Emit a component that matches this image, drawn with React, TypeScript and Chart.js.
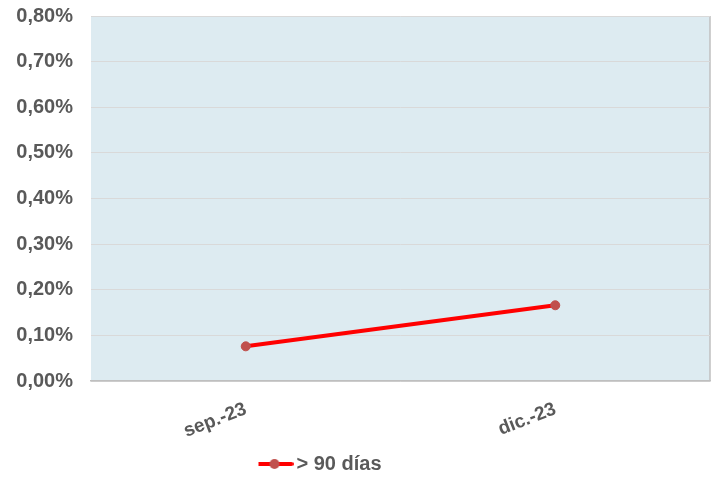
import React, { useEffect, useRef } from "react";
import { Chart, registerables } from "chart.js";

Chart.register(...registerables);

const categories = ["sep.-23", "dic.-23"];
const seriesName = "> 90 días";
const seriesValues = [0.076, 0.166];
const yMin = 0;
const yMax = 0.8;
const yStep = 0.1;

const FONT = "'Liberation Sans', Arial, sans-serif";
const TEXT = "#595959";

function makeLegendIcon(): HTMLCanvasElement {
  const c = document.createElement("canvas");
  c.width = 38;
  c.height = 12;
  const g = c.getContext("2d")!;
  g.strokeStyle = "#FF0000";
  g.lineWidth = 4;
  g.lineCap = "round";
  g.beginPath();
  g.moveTo(2, 6);
  g.lineTo(36, 6);
  g.stroke();
  g.fillStyle = "#C0504D";
  g.beginPath();
  g.arc(19, 6, 5, 0, Math.PI * 2);
  g.fill();
  return c;
}

const bgPlugin = {
  id: "plotBg",
  beforeDraw(chart: any) {
    const { ctx, chartArea } = chart;
    if (!chartArea) return;
    ctx.save();
    ctx.fillStyle = "#DDEBF1";
    ctx.fillRect(chartArea.left, chartArea.top, chartArea.right - chartArea.left, chartArea.bottom - chartArea.top);
    ctx.strokeStyle = "#BFBFBF";
    ctx.lineWidth = 1.5;
    ctx.beginPath();
    ctx.moveTo(chartArea.right, chartArea.top);
    ctx.lineTo(chartArea.right, chartArea.bottom);
    ctx.stroke();
    ctx.restore();
  },
  afterLayout(chart: any) {
    if (chart.legend) {
      const w = chart.legend.right - chart.legend.left;
      chart.legend.left = 258.5;
      chart.legend.right = 258.5 + w;
    }
  },
};

export default function App() {
  const ref = useRef<HTMLCanvasElement | null>(null);
  useEffect(() => {
    document.body.style.margin = "0";
    const icon = makeLegendIcon();
    const chart = new Chart(ref.current!, {
      type: "line",
      data: {
        labels: categories,
        datasets: [
          {
            label: seriesName,
            data: seriesValues,
            borderColor: "#FF0000",
            borderWidth: 4,
            pointBackgroundColor: "#C0504D",
            pointBorderColor: "#C0504D",
            pointBorderWidth: 1,
            pointRadius: 4.5,
            tension: 0,
          },
        ],
      },
      options: {
        animation: false,
        responsive: false,
        devicePixelRatio: 1,
        layout: { padding: { top: 16, right: 8, left: 0, bottom: -7 } },
        plugins: {
          tooltip: { enabled: false },
          legend: {
            position: "bottom",
            align: "start",
            labels: {
              usePointStyle: true,
              pointStyleWidth: 24,
              padding: 4,
              color: TEXT,
              font: { family: FONT, size: 20, weight: "bold" },
              generateLabels: () => [
                {
                  text: seriesName,
                  pointStyle: icon as any,
                  fillStyle: "#FF0000",
                  strokeStyle: "#FF0000",
                  lineWidth: 0,
                  hidden: false,
                  datasetIndex: 0,
                  fontColor: TEXT,
                } as any,
              ],
            },
          },
        },
        scales: {
          x: {
            offset: true,
            grid: { display: false, drawTicks: false },
            border: { display: true, color: "#BFBFBF", width: 1.5 },
            ticks: {
              color: TEXT,
              font: { family: FONT, size: 19, weight: "bold" },
              minRotation: 21,
              maxRotation: 21,
              padding: 17,
            },
            afterFit(scale: any) {
              scale.height = 69;
            },
          },
          y: {
            min: yMin,
            max: yMax,
            grid: { color: "#D9D9D9", drawTicks: false, lineWidth: 1 },
            border: { display: false },
            ticks: {
              stepSize: yStep,
              padding: 18,
              color: TEXT,
              font: { family: FONT, size: 20, weight: "bold" },
              callback: (v: any) => Number(v).toFixed(2).replace(".", ",") + "%",
            },
            afterFit(scale: any) {
              scale.width = 91;
              scale.paddingTop = 0;
              scale.paddingBottom = 0;
            },
          },
        },
      },
      plugins: [bgPlugin],
    });
    return () => chart.destroy();
  }, []);
  return (
    <div style={{ width: 718, height: 477, background: "#fff" }}>
      <canvas ref={ref} width={718} height={477} style={{ display: "block" }} />
    </div>
  );
}
